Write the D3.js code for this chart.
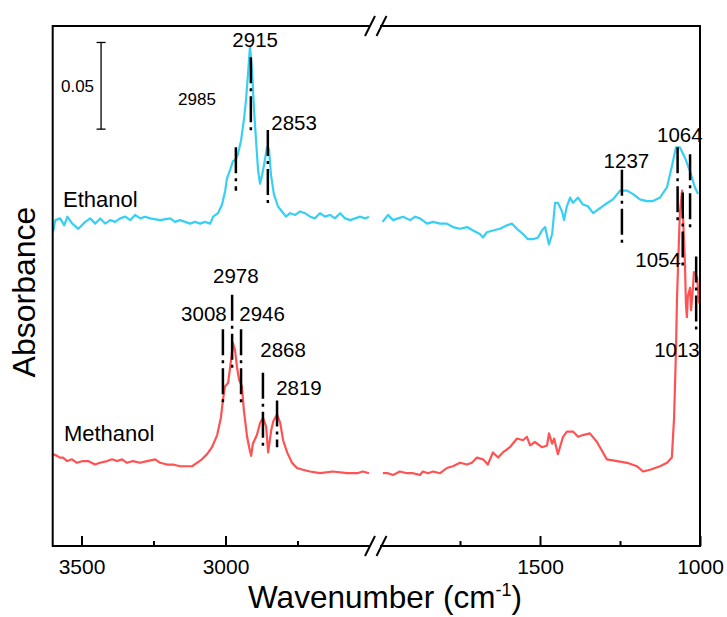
<!DOCTYPE html>
<html><head><meta charset="utf-8">
<script src="https://cdn.jsdelivr.net/npm/d3@7"></script>
<style>html,body{margin:0;padding:0;background:#fff;}svg{display:block;}</style>
</head><body>
<script>
// ---------- data ----------
const ethanolWn = [3599,3591,3574,3560,3549,3532,3511,3487,3470,3452,3435,3418,3400,3383,3366,3348,3331,3314,3296,3279,3262,3227,3192,3175,3158,3140,3123,3106,3088,3071,3053,3043,3026,3012,3001,2995,2984,2974,2964,2957,2946,2936,2929,2922,2915,2908,2901,2894,2887,2880,2873,2866,2856,2849,2842,2832,2818,2804,2790,2776,2758,2741,2724,2706,2690,2672,2655,2637,2620,2602,2585,2567,2550,2532,2515,2502,
  1992,1975,1959,1944,1928,1906,1890,1875,1853,1834,1812,1791,1772,1750,1728,1709,1688,1678,1666,1647,1625,1603,1588,1572,1553,1538,1522,1506,1494,1484,1478,1472,1462,1453,1444,1431,1425,1416,1406,1397,1381,1366,1350,1334,1319,1297,1272,1250,1228,1209,1188,1166,1147,1125,1103,1088,1075,1063,1047,1031,1016,1006];
const ethanolAbs = [.181,.188,.189,.185,.190,.186,.183,.187,.189,.186,.189,.186,.188,.187,.189,.190,.188,.191,.189,.190,.189,.188,.189,.187,.188,.187,.186,.187,.186,.187,.186,.190,.192,.197,.205,.212,.217,.222,.223,.226,.234,.246,.257,.272,.288,.275,.252,.234,.217,.209,.214,.220,.230,.229,.214,.203,.196,.193,.190,.192,.191,.193,.192,.190,.189,.192,.190,.191,.189,.192,.189,.188,.189,.190,.189,.190,
  .187,.191,.188,.189,.190,.188,.190,.189,.186,.187,.186,.186,.184,.183,.184,.182,.180,.178,.181,.182,.183,.185,.186,.183,.180,.177,.177,.178,.182,.184,.179,.174,.180,.198,.198,.193,.188,.196,.201,.198,.201,.197,.196,.192,.194,.197,.200,.205,.205,.203,.200,.199,.199,.201,.207,.219,.230,.230,.224,.216,.207,.203];

const methanolWn = [3599,3585,3575,3564,3550,3533,3516,3495,3477,3453,3436,3411,3394,3377,3359,3342,3321,3297,3272,3244,3227,3203,3182,3158,3134,3116,3099,3082,3064,3047,3029,3016,3009,3002,2991,2981,2974,2967,2960,2953,2943,2936,2925,2918,2911,2905,2891,2880,2870,2859,2852,2841,2834,2821,2810,2800,2786,2769,2752,2731,2707,2672,2627,2578,2543,2523,2502,
  1991,1975,1959,1938,1916,1897,1875,1866,1850,1834,1812,1791,1772,1750,1728,1713,1697,1678,1663,1647,1631,1616,1594,1572,1553,1541,1531,1516,1494,1478,1472,1462,1456,1444,1428,1416,1397,1381,1366,1344,1322,1291,1259,1228,1197,1178,1156,1125,1103,1088,1081,1075,1072,1069,1063,1056,1053,1047,1044,1041,1038,1031,1028,1022,1019,1009,1003];
const methanolAbs = [.053,.052,.051,.051,.049,.050,.048,.049,.049,.047,.048,.049,.050,.049,.050,.048,.049,.048,.049,.050,.048,.047,.047,.046,.046,.046,.048,.050,.053,.057,.064,.074,.084,.092,.094,.107,.117,.113,.103,.096,.092,.078,.063,.057,.052,.059,.064,.071,.074,.069,.054,.067,.072,.076,.071,.061,.054,.048,.045,.044,.043,.042,.043,.042,.042,.043,.042,
  .042,.042,.041,.043,.042,.042,.041,.043,.042,.043,.042,.045,.046,.048,.047,.048,.051,.050,.047,.054,.051,.054,.057,.062,.061,.063,.058,.060,.057,.058,.065,.059,.062,.053,.063,.066,.066,.063,.064,.065,.060,.050,.049,.048,.046,.043,.044,.046,.048,.051,.074,.113,.142,.159,.192,.205,.190,.163,.140,.132,.144,.149,.136,.149,.158,.155,.140];

// peak marker lines: wavenumber, lower and upper absorbance
const markWn  = [2912,2964,2853,1244,1070,1031, 3009,2977,2946,2870,2821,1054,1012];
const markLo  = [.238,.205,.196,.174,.187,.181, .080,.100,.080,.057,.057,.161,.123];
const markHi  = [.282,.230,.240,.217,.230,.226, .125,.145,.125,.100,.084,.204,.167];

// peak labels: text, centre wavenumber, centre absorbance
const peakText = ["2915","2985","2853","1237","1064","3008","2978","2946","2868","2819","1054","1013"];
const peakWn   = [2897,3099,2762,1230,1063,3075,2964,2873,2800,2745,1131,1072];
const peakAbs  = [.292,.258,.244,.222,.237,.134,.156,.134,.113,.091,.165,.113];
const peakSmall = [false,true,false,false,false,false,false,false,false,false,false,false];

const seriesNames = ["Ethanol","Methanol"];
const seriesLabelWn = [3564,3561];
const seriesLabelAbs = [.200,.065];

const tickMajorL = [3500,3000], tickMinorL = [3250,2750];
const tickMajorR = [1500,1000], tickMinorR = [1750,1250];
const scaleBarWn = 3432, scaleBarLo = .2405, scaleBarSize = 0.05;

// ---------- layout ----------
const W = 727, H = 617;
const mLeft = 52.7, mRight = 700, mTop = 26, mBottom = 546;
const breakL = 369.5, breakR = 380;
const FONT = "Arial, 'Liberation Sans', sans-serif";

const xL = d3.scaleLinear().domain([3600, 2500]).range([mLeft, breakL]);
const xR = d3.scaleLinear().domain([2000, 1000]).range([breakR, mRight]);
const xAny = wn => wn >= 2250 ? xL(wn) : xR(wn);
const y = d3.scaleLinear().domain([0, 0.3]).range([mBottom, mTop]);

const svg = d3.select("body").append("svg").attr("width", W).attr("height", H)
  .style("font-family", FONT);

// spectra
const colors = ["#37CFF4", "#FF5252"];
const sets = [[ethanolWn, ethanolAbs], [methanolWn, methanolAbs]];
sets.forEach(([wn, ab], i) => {
  const pts = wn.map((w, k) => ({w, a: ab[k]}));
  const segL = pts.filter(p => p.w >= 2500), segR = pts.filter(p => p.w <= 2000);
  svg.append("path").datum(segL).attr("fill","none").attr("stroke",colors[i]).attr("stroke-width",2.2)
    .attr("stroke-linejoin","round").attr("d", d3.line().x(p => xL(p.w)).y(p => y(p.a)));
  svg.append("path").datum(segR).attr("fill","none").attr("stroke",colors[i]).attr("stroke-width",2.2)
    .attr("stroke-linejoin","round").attr("d", d3.line().x(p => xR(p.w)).y(p => y(p.a)));
});

// marker lines
svg.append("g").selectAll("line").data(markWn).join("line")
  .attr("x1", d => xAny(d)).attr("x2", d => xAny(d))
  .attr("y1", (d,i) => y(markHi[i])).attr("y2", (d,i) => y(markLo[i]))
  .attr("stroke","#000").attr("stroke-width",2.5).attr("stroke-dasharray","26,5,3,5");

// peak labels
svg.append("g").selectAll("text").data(peakText).join("text")
  .attr("x", (d,i) => xAny(peakWn[i])).attr("y", (d,i) => y(peakAbs[i]))
  .attr("dy","0.35em").attr("text-anchor","middle")
  .attr("font-size", (d,i) => peakSmall[i] ? 17 : 20.5).attr("fill","#000").text(d => d);

// series labels
svg.append("g").selectAll("text").data(seriesNames).join("text")
  .attr("x", (d,i) => xAny(seriesLabelWn[i])).attr("y", (d,i) => y(seriesLabelAbs[i]))
  .attr("dy","0.35em").attr("font-size",22).attr("fill","#000").text(d => d);

// scale bar
const sbx = xL(scaleBarWn);
const sb = svg.append("g").attr("stroke","#000").attr("stroke-width",1.3);
sb.append("line").attr("x1",sbx).attr("x2",sbx).attr("y1",y(scaleBarLo)).attr("y2",y(scaleBarLo+scaleBarSize));
[scaleBarLo, scaleBarLo+scaleBarSize].forEach(v => sb.append("line")
  .attr("x1",sbx-4.5).attr("x2",sbx+4.5).attr("y1",y(v)).attr("y2",y(v)));
svg.append("text").attr("x", sbx-7).attr("y", y(scaleBarLo+scaleBarSize/2)).attr("dy","0.35em")
  .attr("text-anchor","end").attr("font-size",17).text(scaleBarSize.toFixed(2));

// axes (ticks inward)
function addAxis(scale, major, minor) {
  const g = svg.append("g").attr("transform", `translate(0,${mBottom})`);
  g.call(d3.axisBottom(scale).tickValues(major).tickSize(-10).tickPadding(13.5).tickFormat(d3.format("d")));
  g.select(".domain").remove();
  g.selectAll(".tick line").attr("stroke","#000").attr("stroke-width",2);
  g.selectAll(".tick text").attr("font-size",21).attr("font-family",FONT).attr("fill","#000");
  const g2 = svg.append("g").attr("transform", `translate(0,${mBottom})`);
  g2.call(d3.axisBottom(scale).tickValues(minor).tickSize(-5).tickFormat(""));
  g2.select(".domain").remove();
  g2.selectAll(".tick line").attr("stroke","#000").attr("stroke-width",2);
}
addAxis(xL, tickMajorL, tickMinorL);
addAxis(xR, tickMajorR, tickMinorR);

// frame with breaks
const fr = svg.append("g").attr("stroke","#000").attr("stroke-width",2).attr("fill","none");
fr.append("path").attr("d", `M${breakL},${mTop}H${mLeft}V${mBottom}H${breakL}`);
fr.append("path").attr("d", `M${breakR},${mTop}H${mRight}V${mBottom}H${breakR}`);
[mTop, mBottom].forEach(yy => {
  [breakL + 0.5, breakR + 1.5].forEach(cx => {
    fr.append("line").attr("x1", cx-5).attr("y1", yy+10).attr("x2", cx+5).attr("y2", yy-10)
      .attr("stroke-width",2);
  });
});

// axis titles
const xt = svg.append("text").attr("x", 385).attr("y", 608).attr("text-anchor","middle")
  .attr("font-size",31.5).attr("fill","#000");
xt.append("tspan").text("Wavenumber (cm");
xt.append("tspan").attr("dy",-12).attr("font-size",18).text("-1");
xt.append("tspan").attr("dy",12).text(")");

svg.append("text").attr("transform", `translate(35,292) rotate(-90)`).attr("text-anchor","middle")
  .attr("font-size",32).attr("fill","#000").text("Absorbance");
</script>
</body></html>
